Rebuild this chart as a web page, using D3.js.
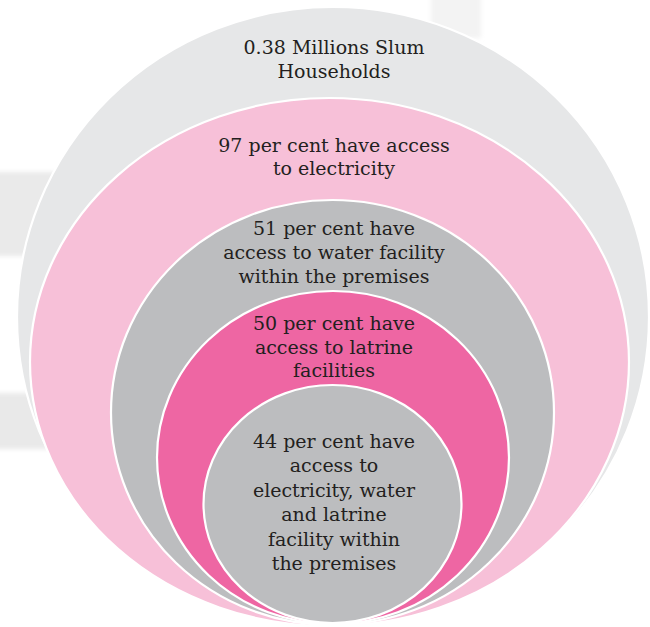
<!DOCTYPE html>
<html>
<head>
<meta charset="utf-8">
<script src="https://cdn.jsdelivr.net/npm/d3@7"></script>
<style>
  html, body { margin: 0; padding: 0; background: #ffffff; }
  svg { display: block; }
</style>
</head>
<body>
<svg id="chart" width="650" height="627"></svg>
<script>
// Nested layers: each one is a subset of the layer that surrounds it.
const layers = ["households", "electricity", "water", "latrine", "all"];
const values = [0.38, 97, 51, 50, 44];
const labelLines = [
  ["0.38 Millions Slum", "Households"],
  ["97 per cent have access", "to electricity"],
  ["51 per cent have", "access to water facility", "within the premises"],
  ["50 per cent have", "access to latrine", "facilities"],
  ["44 per cent have", "access to", "electricity, water", "and latrine", "facility within", "the premises"]
];

const W = 650, H = 627;
const svg = d3.select("#chart");

// Layout of the nested ovals (all resting on a common baseline).
const geom = {
  households:  { cx: 333,   rx: 316,   top: 7,   bottom: 627 },
  electricity: { cx: 329.5, rx: 299.5, top: 98,  bottom: 626 },
  water:       { cx: 332.5, rx: 221.5, top: 200, bottom: 625 },
  latrine:     { cx: 333,   rx: 176,   top: 291, bottom: 624 },
  all:         { cx: 332.5, rx: 129,   top: 385, bottom: 623 }
};
const fill = d3.scaleOrdinal()
  .domain(layers)
  .range(["#e6e7e8", "#f7c0d8", "#bcbdbf", "#ee66a3", "#bcbdbf"]);

// Label block position inside each layer (first line centre).
const labelTop = d3.scaleOrdinal()
  .domain(layers)
  .range([47, 145, 228, 323, 441]);
const lineGap = [24, 23, 24, 23.5, 24.4];

// Faint background shapes
const defs = svg.append("defs");
defs.append("filter").attr("id", "soft")
  .append("feGaussianBlur").attr("stdDeviation", 2.2);
const bg = svg.append("g").attr("filter", "url(#soft)");
bg.append("rect").attr("x", -8).attr("y", 172).attr("width", 64).attr("height", 84).attr("fill", "#eaeaea");
bg.append("rect").attr("x", -8).attr("y", 393).attr("width", 64).attr("height", 56).attr("fill", "#e9e9e9");
bg.append("rect").attr("x", 431).attr("y", -8).attr("width", 50).attr("height", 46).attr("fill", "#f3f3f3");

const data = layers.map((k, i) => ({ key: k, value: values[i], lines: labelLines[i], ...geom[k] }));

svg.append("g").selectAll("ellipse")
  .data(data)
  .join("ellipse")
  .attr("cx", d => d.cx)
  .attr("cy", d => (d.top + d.bottom) / 2)
  .attr("rx", d => d.rx)
  .attr("ry", d => (d.bottom - d.top) / 2)
  .attr("fill", d => fill(d.key))
  .attr("stroke", "#ffffff")
  .attr("stroke-width", 2.2);

const labels = svg.append("g")
  .attr("font-family", "'DejaVu Serif', serif")
  .attr("font-size", 19)
  .attr("fill", "#231f20")
  .attr("text-anchor", "middle");

labels.selectAll("text")
  .data(data)
  .join("text")
  .attr("x", 334)
  .attr("y", d => labelTop(d.key))
  .attr("dominant-baseline", "central")
  .each(function (d, i) {
    d3.select(this).selectAll("tspan")
      .data(d.lines)
      .join("tspan")
      .attr("x", 334)
      .attr("y", (t, j) => labelTop(d.key) + j * lineGap[i])
      .text(t => t);
  });
</script>
</body>
</html>
